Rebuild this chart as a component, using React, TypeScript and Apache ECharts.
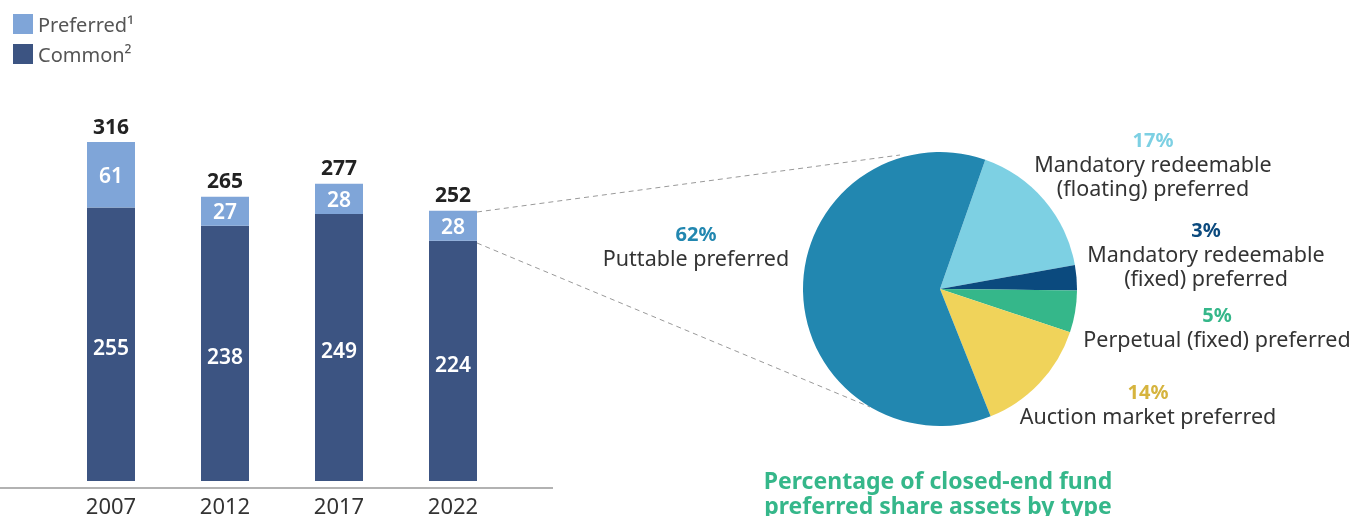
import React, { useEffect, useRef } from "react";
import * as echarts from "echarts";

const years = ["2007", "2012", "2017", "2022"];
const preferred = [61, 27, 28, 28];
const common = [255, 238, 249, 224];

const pieNames = [
  "Mandatory redeemable\n(floating) preferred",
  "Mandatory redeemable\n(fixed) preferred",
  "Perpetual (fixed) preferred",
  "Auction market preferred",
  "Puttable preferred",
];
const pieValues = [17, 3, 5, 14, 62];
const pieColors = ["#7dd0e3", "#0b4a7e", "#35b78a", "#f0d35a", "#2287b0"];
const pieLabelColors = ["#7dd0e3", "#0b4a7e", "#35b78a", "#d6b43e", "#2287b0"];
const pieLabelPos = [
  [1153, 127],
  [1206, 217],
  [1217, 302],
  [1148, 379],
  [696, 221],
];

const FONT = "'Noto Sans', sans-serif";

export default function App() {
  const ref = useRef<HTMLDivElement>(null);
  useEffect(() => {
    if (!ref.current) return;
    const chart = echarts.init(ref.current, undefined, { renderer: "svg" });
    const totals = years.map((_, i) => preferred[i] + common[i]);
    chart.setOption({
      animation: false,
      textStyle: { fontFamily: FONT },
      legend: {
        orient: "vertical",
        left: 8,
        top: 9,
        itemWidth: 20,
        itemHeight: 20,
        itemGap: 10,
        icon: "rect",
        data: ["Preferred¹", "Common²"],
        textStyle: { fontSize: 20, lineHeight: 20, color: "#555", fontFamily: FONT, padding: [0, 0, 0, 0] },
        selectedMode: false,
      },
      grid: { left: 54, right: 844, top: 142, bottom: 28 },
      xAxis: {
        type: "category",
        data: years,
        axisLine: { show: false },
        axisTick: { show: false },
        axisLabel: { fontSize: 22, color: "#333", margin: 13, fontFamily: FONT },
      },
      yAxis: { type: "value", min: 0, max: 316, show: false, splitLine: { show: false } },
      series: [
        {
          name: "Common²",
          type: "bar",
          stack: "a",
          data: common,
          barWidth: 48,
          itemStyle: { color: "#3c5482" },
          label: { show: true, position: "inside", offset: [0, 3], color: "#fff", fontSize: 21, fontWeight: 600, fontFamily: FONT },
          emphasis: { disabled: true },
        },
        {
          name: "Preferred¹",
          type: "bar",
          stack: "a",
          data: preferred,
          barWidth: 48,
          itemStyle: { color: "#7fa5d8" },
          label: { show: true, position: "inside", color: "#fff", fontSize: 21, fontWeight: 600, fontFamily: FONT },
          emphasis: { disabled: true },
        },
        {
          name: "Total",
          type: "bar",
          stack: "a",
          data: totals.map(() => 0),
          barWidth: 48,
          itemStyle: { color: "transparent" },
          label: {
            show: true,
            position: "top",
            distance: 6,
            color: "#222",
            fontSize: 21,
            fontWeight: "bold",
            fontFamily: FONT,
            formatter: (p: any) => String(totals[p.dataIndex]),
          },
          emphasis: { disabled: true },
        },
        {
          type: "pie",
          center: [940, 289],
          radius: 137,
          startAngle: 70.7,
          clockwise: true,
          data: pieNames.map((n, i) => ({ name: n, value: pieValues[i], itemStyle: { color: pieColors[i] } })),
          itemStyle: { borderWidth: 0 },
          labelLine: { show: false },
          emphasis: { disabled: true },
          label: {
            show: true,
            position: "outside",
            align: "center",
            width: 400,
            overflow: "none",
            formatter: (p: any) => {
              const lines = pieNames[p.dataIndex].split("\n").map((l) => `{n|${l}}`).join("\n");
              return `{p${p.dataIndex}|${pieValues[p.dataIndex]}%}\n${lines}`;
            },
            rich: {
              n: { fontSize: 21.5, color: "#333", lineHeight: 24, fontFamily: FONT, align: "center" },
              ...Object.fromEntries(
                pieLabelColors.map((c, i) => [
                  `p${i}`,
                  { fontSize: 20, fontWeight: "bold", color: c, lineHeight: 24, fontFamily: FONT, align: "center" },
                ])
              ),
            },
          },
          labelLayout: (p: any) => ({
            x: pieLabelPos[p.dataIndex][0],
            y: pieLabelPos[p.dataIndex][1],
            align: "center",
            verticalAlign: "top",
          }),
        },
      ],
      graphic: [
        { type: "line", shape: { x1: 0, y1: 488, x2: 553, y2: 488 }, style: { stroke: "#999", lineWidth: 1.5 } },
        { type: "line", shape: { x1: 477, y1: 212, x2: 900, y2: 155 }, style: { stroke: "#999", lineWidth: 1, lineDash: [5, 4] } },
        { type: "line", shape: { x1: 477, y1: 243, x2: 870, y2: 407 }, style: { stroke: "#999", lineWidth: 1, lineDash: [5, 4] } },
        {
          type: "text",
          x: 938,
          y: 467,
          style: {
            text: "Percentage of closed-end fund\npreferred share assets by type",
            fill: "#35b78a",
            font: `bold 23px ${FONT}`,
            lineHeight: 25,
            align: "center",
          },
        },
      ],
    });
    return () => chart.dispose();
  }, []);
  return <div ref={ref} style={{ position: "fixed", left: 0, top: 0, width: 1354, height: 516 }} />;
}
